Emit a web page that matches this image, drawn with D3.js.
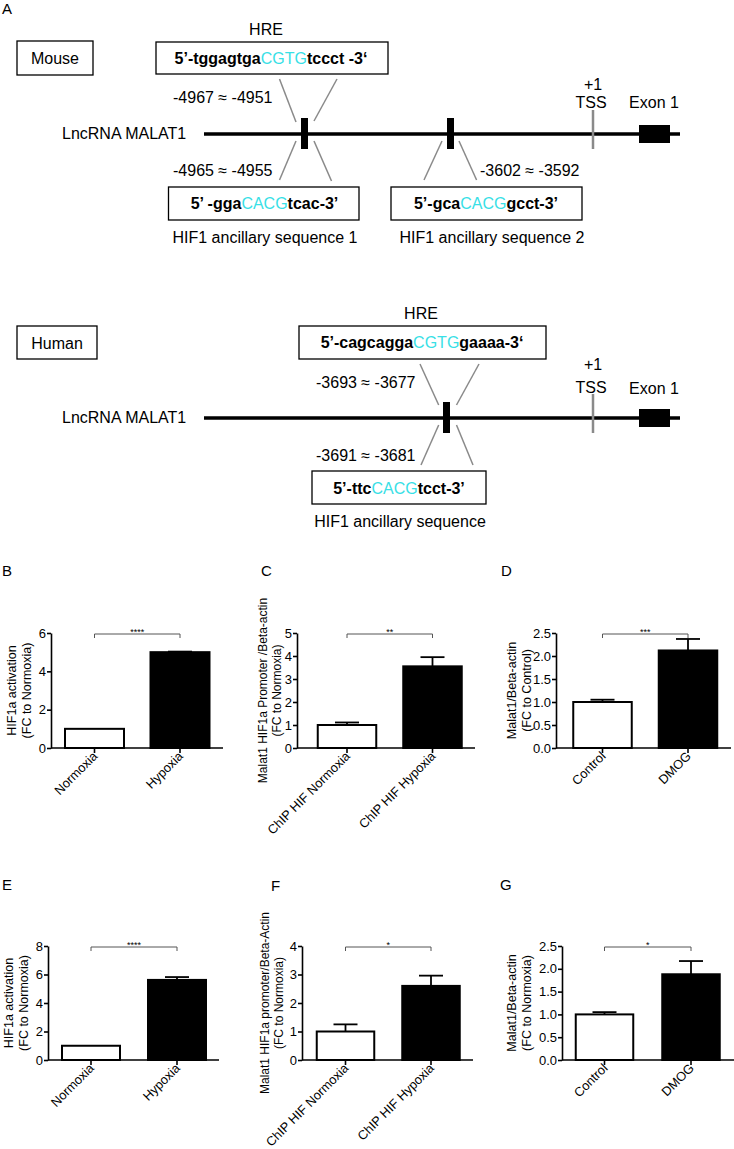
<!DOCTYPE html>
<html><head><meta charset="utf-8">
<script src="https://cdn.jsdelivr.net/npm/d3@7"></script>
<style>
body{margin:0;background:#fff}
svg{display:block}
text{font-family:"Liberation Sans",Arial,Helvetica,sans-serif;fill:#000}
</style>
</head><body>
<svg id="fig" width="734" height="1149"></svg>
<script>
// ---------------- DATA ----------------
const catsHypoxia = ["Normoxia", "Hypoxia"];
const catsChip = ["ChIP HIF Normoxia", "ChIP HIF Hypoxia"];
const catsDmog = ["Control", "DMOG"];

const valuesB = [1.0, 5.0];   const errorsB = [0, 0.03];
const valuesC = [1.0, 3.55];  const errorsC = [0.11, 0.40];
const valuesD = [1.0, 2.12];  const errorsD = [0.05, 0.25];
const valuesE = [1.0, 5.62];  const errorsE = [0, 0.20];
const valuesF = [1.0, 2.60];  const errorsF = [0.25, 0.36];
const valuesG = [1.0, 1.88];  const errorsG = [0.05, 0.29];

const ticksB = [0, 2, 4, 6];
const ticksC = [0, 1, 2, 3, 4, 5];
const ticksD = [0, 0.5, 1.0, 1.5, 2.0, 2.5];
const ticksE = [0, 2, 4, 6, 8];
const ticksF = [0, 1, 2, 3, 4];
const ticksG = [0, 0.5, 1.0, 1.5, 2.0, 2.5];

const sigB = "****", sigC = "**", sigD = "***", sigE = "****", sigF = "*", sigG = "*";

const yLabelB = ["HIF1a activation", "(FC to Normoxia)"];
const yLabelC = ["Malat1 HIF1a Promoter /Beta-actin", "(FC to Normoxia)"];
const yLabelD = ["Malat1/Beta-actin", "(FC to Control)"];
const yLabelE = ["HIF1a activation", "(FC to Normoxia)"];
const yLabelF = ["Malat1 HIF1a promoter/Beta-Actin", "(FC to Normoxia)"];
const yLabelG = ["Malat1/Beta-actin", "(FC to Normoxia)"];

// diagram texts
const hreMouse = ["5’-tggagtga", "CGTG", "tccct -3‘"];
const ancMouse1 = ["5’ -gga", "CACG", "tcac-3’"];
const ancMouse2 = ["5’-gca", "CACG", "gcct-3’"];
const hreHuman = ["5’-cagcagga", "CGTG", "gaaaa-3‘"];
const ancHuman = ["5’-ttc", "CACG", "tcct-3’"];
const rangesMouse = ["-4967 ≈ -4951", "-4965 ≈ -4955", "-3602 ≈ -3592"];
const rangesHuman = ["-3693 ≈ -3677", "-3691 ≈ -3681"];
const ancLabelsMouse = ["HIF1 ancillary sequence 1", "HIF1 ancillary sequence 2"];
const ancLabelsHuman = ["HIF1 ancillary sequence"];

// ---------------- DRAW ----------------
const svg = d3.select("#fig");
svg.append("rect").attr("width", 734).attr("height", 1149).attr("fill", "#fff");
const CYAN = "#38e0e6";
const GREY = "#8a8a8a";

function txt(x, y, s, size, anchor, weight) {
  return svg.append("text").attr("x", x).attr("y", y).text(s)
    .attr("font-size", size).attr("text-anchor", anchor || "start")
    .attr("font-weight", weight || "normal");
}
function box(x0, y0, x1, y1) {
  svg.append("rect").attr("x", x0).attr("y", y0).attr("width", x1 - x0).attr("height", y1 - y0)
    .attr("fill", "none").attr("stroke", "#000").attr("stroke-width", 1.3);
}
function seq(cx, y, parts) {
  const t = svg.append("text").attr("x", cx).attr("y", y).attr("text-anchor", "middle")
    .attr("font-size", 16);
  t.append("tspan").attr("font-weight", "bold").text(parts[0]);
  t.append("tspan").style("fill", CYAN).text(parts[1]);
  t.append("tspan").attr("font-weight", "bold").text(parts[2]);
}
function gline(x1, y1, x2, y2) {
  svg.append("line").attr("x1", x1).attr("y1", y1).attr("x2", x2).attr("y2", y2)
    .attr("stroke", GREY).attr("stroke-width", 1.5);
}
function gene(y, markers) {
  svg.append("line").attr("x1", 204).attr("x2", 680).attr("y1", y).attr("y2", y)
    .attr("stroke", "#000").attr("stroke-width", 3.5);
  markers.forEach(mx => svg.append("rect").attr("x", mx).attr("y", y - 16).attr("width", 7).attr("height", 31).attr("fill", "#000"));
  svg.append("line").attr("x1", 593).attr("x2", 593).attr("y1", y - 24).attr("y2", y + 15)
    .attr("stroke", GREY).attr("stroke-width", 2.5);
  svg.append("rect").attr("x", 639).attr("y", y - 9).attr("width", 31).attr("height", 18).attr("fill", "#000");
  txt(62, y + 5, "LncRNA MALAT1", 16);
}

// Panel A
txt(2, 14, "A", 15);
// mouse
box(17, 41, 93, 75); txt(55, 64, "Mouse", 16, "middle");
txt(266, 35, "HRE", 16, "middle");
box(156, 42, 388, 74); seq(271, 64, hreMouse);
txt(173, 103, rangesMouse[0], 16);
gline(279.5, 79, 296, 122); gline(337, 79, 314, 121);
gene(134, [301, 447]);
txt(593, 90, "+1", 16, "middle"); txt(591, 108, "TSS", 16, "middle"); txt(654, 108, "Exon 1", 16, "middle");
gline(296, 141, 279.5, 180); gline(314, 141, 331.5, 181);
gline(442, 141, 424, 180); gline(459, 141, 476.6, 180);
txt(173, 176, rangesMouse[1], 16); txt(480, 176, rangesMouse[2], 16);
box(168.5, 187, 359, 220); seq(264.5, 209, ancMouse1);
box(391, 187, 582, 220); seq(486, 209, ancMouse2);
txt(265, 243, ancLabelsMouse[0], 16, "middle"); txt(492, 243, ancLabelsMouse[1], 16, "middle");
// human
box(17, 326, 97, 359); txt(57, 349, "Human", 16, "middle");
txt(421, 319, "HRE", 16, "middle");
box(299, 326, 546, 359); seq(422, 348, hreHuman);
txt(316, 388, rangesHuman[0], 16);
gline(420, 364, 438.7, 405); gline(479, 364, 456.5, 405);
gene(418, [443]);
txt(593, 370, "+1", 16, "middle"); txt(591, 393, "TSS", 16, "middle"); txt(654, 394, "Exon 1", 16, "middle");
gline(438.7, 425, 421, 465); gline(456.5, 425, 473, 465);
txt(316, 461, rangesHuman[1], 16);
box(312, 471, 486, 504); seq(399, 494, ancHuman);
txt(400, 527, ancLabelsHuman[0], 16, "middle");

// ---------------- BAR PANELS ----------------
function panel(o) {
  const g = svg.append("g");
  const y = d3.scaleLinear().domain([0, o.max]).range([o.yBot, o.yTop]);
  const step = o.c2 - o.c1;
  const pin = 1 - o.w / step;
  const x = d3.scaleBand().domain(o.cats).range([o.c1 - step / 2, o.c2 + step / 2])
    .paddingInner(pin).paddingOuter(pin / 2);
  // letter
  g.append("text").attr("x", o.lx).attr("y", o.ly).attr("font-size", 15).text(o.letter);
  // y label
  o.ylab.forEach((s, i) => {
    g.append("text").attr("transform", `translate(${o.ylx[i]},${(o.yTop + o.yBot) / 2}) rotate(-90)`)
      .attr("text-anchor", "middle").attr("dy", "0.35em").attr("font-size", o.ylfs || 12.5).text(s);
  });
  // bars
  g.selectAll("rect.bar").data(o.cats).join("rect").attr("class", "bar")
    .attr("x", d => x(d)).attr("width", x.bandwidth())
    .attr("y", (d, i) => y(o.vals[i])).attr("height", (d, i) => o.yBot - y(o.vals[i]))
    .attr("fill", (d, i) => i === 0 ? "#fff" : "#000").attr("stroke", "#000").attr("stroke-width", 2);
  // error bars
  o.cats.forEach((c, i) => {
    if (!o.errs[i]) return;
    const cx = x(c) + x.bandwidth() / 2;
    g.append("line").attr("x1", cx).attr("x2", cx).attr("y1", y(o.vals[i])).attr("y2", y(o.vals[i] + o.errs[i]))
      .attr("stroke", "#000").attr("stroke-width", 1.8);
    g.append("line").attr("x1", cx - 12).attr("x2", cx + 12).attr("y1", y(o.vals[i] + o.errs[i])).attr("y2", y(o.vals[i] + o.errs[i]))
      .attr("stroke", "#000").attr("stroke-width", 1.8);
  });
  // y axis
  const ya = g.append("g").attr("transform", `translate(${o.ax},0)`)
    .call(d3.axisLeft(y).tickValues(o.ticks).tickSize(4).tickSizeOuter(0).tickPadding(1)
      .tickFormat(o.fmt ? d3.format(o.fmt) : d3.format("d")));
  ya.selectAll("path,line").attr("stroke", "#000").attr("stroke-width", 1.6);
  ya.selectAll("text").attr("font-size", 13).attr("fill", "#000")
    .style("font-family", '"Liberation Sans",Arial,sans-serif');
  // x axis
  g.append("line").attr("x1", o.ax).attr("x2", o.xEnd).attr("y1", o.yBot).attr("y2", o.yBot)
    .attr("stroke", "#000").attr("stroke-width", 1.6);
  o.cats.forEach(c => {
    const cx = x(c) + x.bandwidth() / 2;
    g.append("line").attr("x1", cx).attr("x2", cx).attr("y1", o.yBot).attr("y2", o.yBot + 5)
      .attr("stroke", "#000").attr("stroke-width", 1.6);
    g.append("text").attr("transform", `translate(${cx + 1},${o.yBot + 6}) rotate(-45)`)
      .attr("text-anchor", "end").attr("dy", "0.32em").attr("font-size", 12.8).text(c);
  });
  // significance bracket
  const b1 = x(o.cats[0]) + x.bandwidth() / 2, b2 = x(o.cats[1]) + x.bandwidth() / 2;
  const by = o.yTop + 1;
  g.append("path").attr("d", `M${b1},${by + 4}V${by}H${b2}V${by + 4}`)
    .attr("fill", "none").attr("stroke", "#555").attr("stroke-width", 1);
  g.append("text").attr("x", (b1 + b2) / 2).attr("y", by + 1).attr("text-anchor", "middle")
    .attr("font-size", 9).attr("fill", "#333").text(o.sig);
}

panel({letter: "B", lx: 2, ly: 576, cats: catsHypoxia, vals: valuesB, errs: errorsB, ticks: ticksB, max: 6,
  ax: 51, xEnd: 223, yTop: 633, yBot: 748, c1: 94.5, c2: 180, w: 59, ylab: yLabelB, ylx: [12, 27], sig: sigB});
panel({letter: "C", lx: 261, ly: 576, cats: catsChip, vals: valuesC, errs: errorsC, ticks: ticksC, max: 5,
  ax: 297, xEnd: 475, yTop: 633, yBot: 748, c1: 347, c2: 432.5, w: 58.5, ylab: yLabelC, ylx: [263, 276.5], ylfs: 12, sig: sigC});
panel({letter: "D", lx: 501, ly: 576, cats: catsDmog, vals: valuesD, errs: errorsD, ticks: ticksD, max: 2.5, fmt: ".1f",
  ax: 556, xEnd: 731, yTop: 633, yBot: 748, c1: 602.5, c2: 688, w: 58.5, ylab: yLabelD, ylx: [512, 527], sig: sigD});
panel({letter: "E", lx: 2, ly: 890, cats: catsHypoxia, vals: valuesE, errs: errorsE, ticks: ticksE, max: 8,
  ax: 48, xEnd: 219, yTop: 946, yBot: 1060, c1: 91, c2: 177, w: 58, ylab: yLabelE, ylx: [9, 24], sig: sigE});
panel({letter: "F", lx: 271, ly: 891, cats: catsChip, vals: valuesF, errs: errorsF, ticks: ticksF, max: 4,
  ax: 302, xEnd: 473, yTop: 946, yBot: 1060, c1: 345.5, c2: 431, w: 57.5, ylab: yLabelF, ylx: [265, 279], ylfs: 12, sig: sigF});
panel({letter: "G", lx: 500, ly: 890, cats: catsDmog, vals: valuesG, errs: errorsG, ticks: ticksG, max: 2.5, fmt: ".1f",
  ax: 562, xEnd: 734, yTop: 946, yBot: 1060, c1: 604.5, c2: 691, w: 57.5, ylab: yLabelG, ylx: [512, 527], sig: sigG});
</script>
</body></html>
